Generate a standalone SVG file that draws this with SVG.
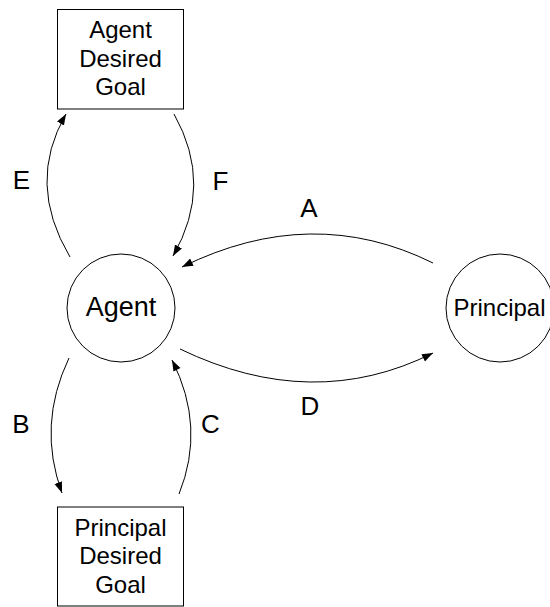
<svg xmlns="http://www.w3.org/2000/svg" width="550" height="607" viewBox="0 0 550 607">
<style>
.node{fill:#fff;stroke:#000;stroke-width:1}
.t{font-family:"Liberation Sans",Arial,sans-serif;fill:#000;text-anchor:middle}
.box{font-size:24px}
.lbl{font-size:26px}
.edge{fill:none;stroke:#000;stroke-width:1;marker-end:url(#ah)}
</style>
<defs>
<marker id="ah" markerUnits="userSpaceOnUse" markerWidth="12" markerHeight="10" refX="11" refY="4" orient="auto">
<path d="M0,0 L11,4 L0,8 z" fill="#000"/>
</marker>
</defs>
<rect width="550" height="607" fill="#fff"/>
<g id="agent-goal">
<rect class="node" x="57.5" y="9.5" width="126" height="99.5"/>
<text class="t box" x="120.5" y="38">Agent</text>
<text class="t box" x="120.5" y="66.5">Desired</text>
<text class="t box" x="120.5" y="95">Goal</text>
</g>
<g id="principal-goal">
<rect class="node" x="57.5" y="507" width="126" height="99"/>
<text class="t box" x="120.5" y="535.5">Principal</text>
<text class="t box" x="120.5" y="564">Desired</text>
<text class="t box" x="120.5" y="592.5">Goal</text>
</g>
<g id="agent">
<circle class="node" cx="121" cy="308" r="54"/>
<text class="t" style="font-size:27px" x="121" y="316">Agent</text>
</g>
<g id="principal">
<circle class="node" cx="500" cy="308" r="54"/>
<text class="t" style="font-size:24px" x="499.5" y="316">Principal</text>
</g>
<g id="connectors">
<path class="edge" d="M70,257 Q26,183 66,114"/>
<path class="edge" d="M174,114 Q214,185 173,256"/>
<path class="edge" d="M433,263 Q312,203 182,267"/>
<path class="edge" d="M180,349 Q313,413 433,353"/>
<path class="edge" d="M69,358 Q37,425 62,493"/>
<path class="edge" d="M179,494 Q206,427 172,360"/>
<text class="t lbl" x="21.5" y="189">E</text>
<text class="t lbl" x="220.5" y="190">F</text>
<text class="t lbl" x="309" y="217">A</text>
<text class="t lbl" x="310" y="415">D</text>
<text class="t lbl" x="21" y="433">B</text>
<text class="t lbl" x="210.5" y="433">C</text>
</g>
</svg>
